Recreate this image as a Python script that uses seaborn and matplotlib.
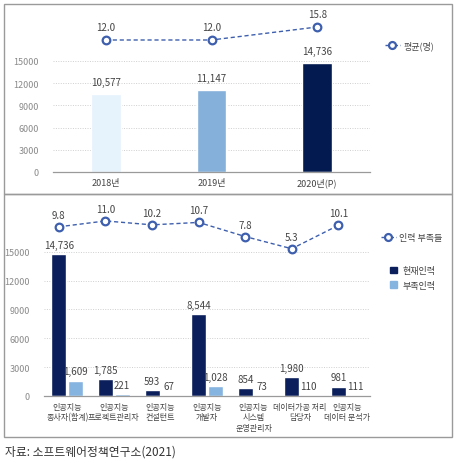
import numpy as np
import pandas as pd
import matplotlib
matplotlib.use("Agg")
import matplotlib.pyplot as plt
import seaborn as sns
from matplotlib.lines import Line2D
from matplotlib.patches import Patch, Rectangle

# 데이터
years = ["2018년", "2019년", "2020년(P)"]
total_workers = [10577, 11147, 14736]
avg_workers = [12.0, 12.0, 15.8]

jobs = [
    "인공지능\n종사자(합계)",
    "인공지능\n프로젝트관리자",
    "인공지능\n컨설턴트",
    "인공지능\n개발자",
    "인공지능\n시스템\n운영관리자",
    "데이터가공 처리\n담당자",
    "인공지능\n데이터 분석가",
]
current_staff = [14736, 1785, 593, 8544, 854, 1980, 981]
shortage_staff = [1609, 221, 67, 1028, 73, 110, 111]
shortage_rate = [9.8, 11.0, 10.2, 10.7, 7.8, 5.3, 10.1]

sns.set_theme(style="white")
plt.rcParams["font.family"] = ["Noto Sans CJK KR", "DejaVu Sans"]

W, H = 461, 464
fig = plt.figure(figsize=(W / 100, H / 100), dpi=100)

LINE_C = "#3d5fae"
TICK_C = "#8a8a8a"
TEXT_C = "#444444"
GRID_C = "#cfcfcf"


def px_axes(left, right, top, bottom):
    return fig.add_axes([left / W, 1 - bottom / H, (right - left) / W, (bottom - top) / H])


def style_axes(ax, n):
    for s in ["left", "right", "top"]:
        ax.spines[s].set_visible(False)
    ax.spines["bottom"].set_color("#9a9a9a")
    ax.spines["bottom"].set_linewidth(0.9)
    ax.set_yticks(range(0, 15001, 3000))
    ax.tick_params(axis="y", length=0, labelsize=6.5, labelcolor=TICK_C, pad=10)
    ax.tick_params(axis="x", which="major", length=0, labelcolor=TEXT_C)
    ax.set_xticks(np.arange(-0.5, n, 1), minor=True)
    ax.tick_params(axis="x", which="minor", length=3, direction="inout", color="#9a9a9a", width=0.8)
    ax.set_xlim(-0.5, n - 0.5)
    for v in range(3000, 15001, 3000):
        ax.axhline(v, color=GRID_C, lw=0.7, ls=(0, (1, 1.5)), zorder=0)
    ax.set_xlabel("")
    ax.set_ylabel("")


def line_kw():
    return dict(color=LINE_C, lw=1, linestyle=(0, (3, 2)), marker="o", markersize=5.5,
                markerfacecolor="white", markeredgecolor=LINE_C, markeredgewidth=1.6)


# ---- 상단 패널 ----
ax1 = px_axes(53, 370, 15, 173)
top_df = pd.DataFrame({"year": years, "total": total_workers})
sns.barplot(data=top_df, x="year", y="total", hue="year",
            palette=["#e6f2fc", "#84b0da", "#021a4f"], width=0.28, saturation=1,
            legend=False, ax=ax1, zorder=2)
style_axes(ax1, len(years))
ax1.set_ylim(0, 21350)
ax1.tick_params(axis="x", labelsize=6.5, pad=4)
for c in ax1.containers:
    ax1.bar_label(c, labels=[f"{int(b.get_height()):,}" for b in c],
                  padding=5, fontsize=7, color=TEXT_C)

ax1b = ax1.twinx()
sns.lineplot(x=np.arange(len(years)), y=avg_workers, ax=ax1b, **line_kw())
ax1b.set_ylim(-26.6, 19.6)
ax1b.axis("off")
for i, v in enumerate(avg_workers):
    ax1b.annotate(f"{v:.1f}", (i, v), xytext=(0, 6), textcoords="offset points",
                  ha="center", va="bottom", fontsize=7, color=TEXT_C)

fig.legend(handles=[Line2D([], [], color=LINE_C, lw=1, ls=(0, (2, 1.5)), marker="o",
                           markersize=5, markerfacecolor="white", markeredgecolor=LINE_C,
                           markeredgewidth=1.6)],
           labels=["평균(명)"], loc="center left", bbox_to_anchor=(377 / W, 1 - 46 / H),
           frameon=False, fontsize=6.5, handlelength=1.6, handletextpad=0.4, labelcolor=TEXT_C)

# ---- 하단 패널 ----
ax2 = px_axes(44, 370, 210, 397)
bot_df = pd.DataFrame({
    "job": jobs * 2,
    "value": current_staff + shortage_staff,
    "type": ["현재인력"] * len(jobs) + ["부족인력"] * len(jobs),
})
sns.barplot(data=bot_df, x="job", y="value", hue="type",
            palette=["#0b1f5c", "#86b4e0"], width=0.72, gap=0.1, saturation=1,
            legend=False, ax=ax2, zorder=2)
style_axes(ax2, len(jobs))
ax2.set_ylim(0, 19450)
ax2.tick_params(axis="x", labelsize=5.8, pad=4)
for lab in ax2.get_xticklabels():
    lab.set_linespacing(1.25)
for c in ax2.containers:
    ax2.bar_label(c, labels=[f"{int(b.get_height()):,}" for b in c],
                  padding=3, fontsize=7, color=TEXT_C)

dark_x = [b.get_x() + b.get_width() / 2 for b in ax2.containers[0]]
ax2b = ax2.twinx()
sns.lineplot(x=dark_x, y=shortage_rate, ax=ax2b, **line_kw())
ax2b.set_ylim(-24.9, 13.45)
ax2b.axis("off")
for x, v in zip(dark_x, shortage_rate):
    ax2b.annotate(f"{v:.1f}", (x, v), xytext=(0, 5), textcoords="offset points",
                  ha="center", va="bottom", fontsize=7, color=TEXT_C)

fig.legend(handles=[Line2D([], [], color=LINE_C, lw=1, ls=(0, (2, 1.5)), marker="o",
                           markersize=5, markerfacecolor="white", markeredgecolor=LINE_C,
                           markeredgewidth=1.6)],
           labels=["인력 부족들"], loc="center left", bbox_to_anchor=(373 / W, 1 - 239 / H),
           frameon=False, fontsize=6.5, handlelength=1.6, handletextpad=0.4, labelcolor=TEXT_C)
fig.legend(handles=[Patch(color="#0b1f5c"), Patch(color="#86b4e0")],
           labels=["현재인력", "부족인력"], loc="upper left", bbox_to_anchor=(382 / W, 1 - 259 / H),
           frameon=False, fontsize=6.5, handlelength=0.8, handleheight=0.8,
           handletextpad=0.6, labelspacing=0.6, labelcolor=TEXT_C)

# 패널 테두리
for (x0, y0, x1, y1) in [(4, 5, 452, 195), (4, 195, 452, 438)]:
    fig.add_artist(Rectangle((x0 / W, 1 - y1 / H), (x1 - x0) / W, (y1 - y0) / H,
                             transform=fig.transFigure, fill=False,
                             ec="#9a9a9a", lw=1.0))

fig.text(5 / W, 1 - 452 / H, "자료: 소프트웨어정책연구소(2021)", ha="left", va="center",
         fontsize=8.5, color="#333333")

fig.savefig("out.png", dpi=100)
